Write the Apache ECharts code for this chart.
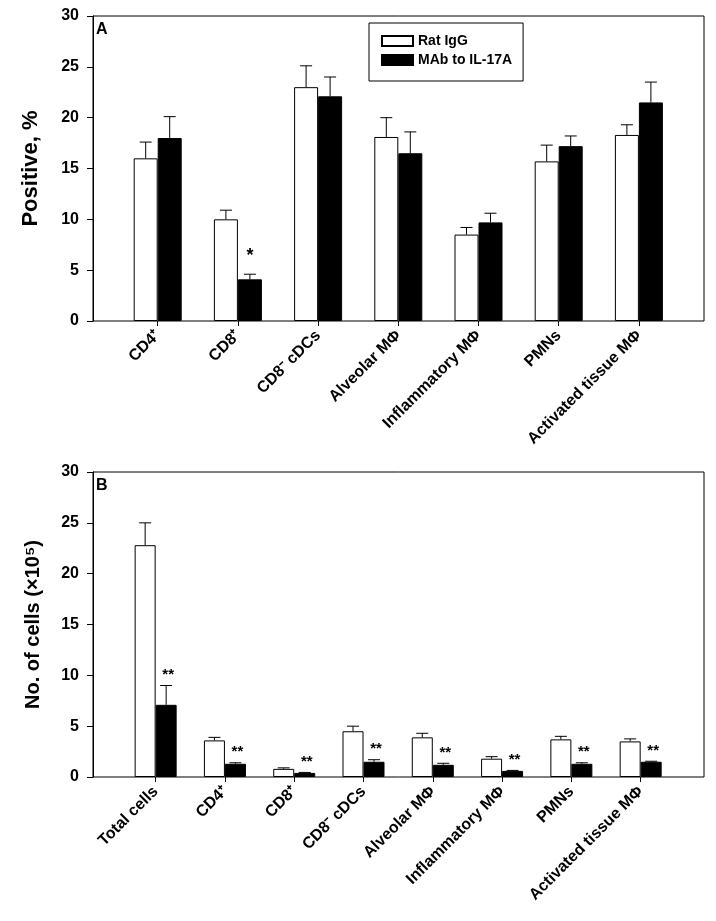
<!DOCTYPE html>
<html><head><meta charset="utf-8">
<script src="https://cdn.jsdelivr.net/npm/echarts@6/dist/echarts.min.js"></script>
<style>html,body{margin:0;padding:0;background:#fff}#c{width:716px;height:921px}</style>
</head><body><div id="c"></div>
<script>
// ---- Data ----
const categoriesA = ['CD4⁺', 'CD8⁺', 'CD8⁻ cDCs', 'Alveolar MΦ', 'Inflammatory MΦ', 'PMNs', 'Activated tissue MΦ'];
const ratA = [16.0, 10.0, 23.0, 18.1, 8.5, 15.7, 18.3];
const ratASem = [1.6, 0.9, 2.1, 1.9, 0.7, 1.6, 1.0];
const mabA = [18.0, 4.1, 22.1, 16.5, 9.7, 17.2, 21.5];
const mabASem = [2.1, 0.5, 1.9, 2.1, 0.9, 1.0, 2.0];
const sigA = ['', '*', '', '', '', '', ''];

const categoriesB = ['Total cells', 'CD4⁺', 'CD8⁺', 'CD8⁻ cDCs', 'Alveolar MΦ', 'Inflammatory MΦ', 'PMNs', 'Activated tissue MΦ'];
const ratB = [22.8, 3.6, 0.8, 4.5, 3.9, 1.8, 3.7, 3.5];
const ratBSem = [2.2, 0.3, 0.1, 0.5, 0.4, 0.2, 0.3, 0.25];
const mabB = [7.1, 1.3, 0.4, 1.5, 1.2, 0.6, 1.3, 1.5];
const mabBSem = [1.9, 0.1, 0.05, 0.2, 0.15, 0.05, 0.1, 0.05];
const sigB = ['**', '**', '**', '**', '**', '**', '**', '**'];

const yTicks = [0, 5, 10, 15, 20, 25, 30];
const seriesNames = ['Rat IgG', 'MAb to IL-17A'];

// ---- Styling helpers ----
const FONT = "'Liberation Sans', Arial, sans-serif";

function errSeries(name, xi, yi, vals, sems, side, halfBar, stars, starOpts) {
  return {
    type: 'custom', name: name, xAxisIndex: xi, yAxisIndex: yi, z: 5,
    data: vals.map((v, i) => [i, v, sems[i]]),
    renderItem: function (params, api) {
      const i = api.value(0), v = api.value(1), s = api.value(2);
      const base = api.coord([i, v]);
      const top = api.coord([i, v + s]);
      const x = base[0] + side * halfBar;
      const ch = [
        {type: 'line', shape: {x1: x, y1: base[1], x2: x, y2: top[1]}, style: {stroke: '#000', lineWidth: 1}},
        {type: 'line', shape: {x1: x - 6, y1: top[1], x2: x + 6, y2: top[1]}, style: {stroke: '#000', lineWidth: 1}}
      ];
      const st = stars ? stars[params.dataIndex] : '';
      if (st) {
        ch.push({type: 'text', x: x + starOpts.dx, y: top[1] - starOpts.gap,
          style: {text: st, fill: '#000', font: 'bold ' + starOpts.size + 'px ' + FONT, textAlign: 'center', textVerticalAlign: 'bottom'}});
      }
      return {type: 'group', children: ch};
    }
  };
}

const yAxisVisible = (name, gap, nsize) => ({
  type: 'value', min: yTicks[0], max: yTicks[yTicks.length - 1], interval: 5,
  axisLine: {show: true, lineStyle: {color: '#000', width: 1}},
  axisTick: {show: true, inside: false, length: 6, lineStyle: {color: '#000'}},
  axisLabel: {color: '#000', fontWeight: 'bold', fontSize: 16, fontFamily: FONT, margin: 14},
  splitLine: {show: false},
  name: name, nameLocation: 'middle', nameGap: gap, nameRotate: 90,
  nameTextStyle: {color: '#000', fontWeight: 'bold', fontSize: nsize, fontFamily: FONT}
});
const yAxisHidden = () => ({type: 'value', min: 0, max: 30, interval: 5, show: false});
const xCat = (data) => ({
  type: 'category', data: data,
  axisLine: {show: false},
  axisTick: {show: true, alignWithLabel: true, length: 5, lineStyle: {color: '#000'}},
  axisLabel: {color: '#000', fontWeight: 'bold', fontSize: 16, fontFamily: FONT, rotate: 45, margin: 12, interval: 0}
});

const chart = echarts.init(document.getElementById('c'), null, {renderer: 'canvas'});
chart.setOption({
  backgroundColor: '#fff',
  animation: false,
  grid: [
    {left: 93, top: 16, width: 611, height: 305, show: true, borderColor: '#000', borderWidth: 1, backgroundColor: 'transparent'},
    {left: 117.6, top: 16, width: 561.4, height: 305},
    {left: 93, top: 472, width: 611, height: 305, show: true, borderColor: '#000', borderWidth: 1, backgroundColor: 'transparent'},
    {left: 121, top: 472, width: 554.3, height: 305}
  ],
  xAxis: [
    {gridIndex: 0, type: 'value', min: 0, max: 1, show: false},
    Object.assign({gridIndex: 1}, xCat(categoriesA)),
    {gridIndex: 2, type: 'value', min: 0, max: 1, show: false},
    Object.assign({gridIndex: 3}, xCat(categoriesB))
  ],
  yAxis: [
    Object.assign({gridIndex: 0}, yAxisVisible('Positive, %', 51, 22)),
    Object.assign({gridIndex: 1}, yAxisHidden()),
    Object.assign({gridIndex: 2}, yAxisVisible('No. of cells (×10⁵)', 50, 20)),
    Object.assign({gridIndex: 3}, yAxisHidden())
  ],
  legend: {
    data: [{name: seriesNames[0], icon: 'rect'}, {name: seriesNames[1], icon: 'rect'}],
    orient: 'vertical', left: 369, top: 23,
    borderColor: '#000', borderWidth: 1, padding: [11, 11, 14, 12],
    itemWidth: 31, itemHeight: 10, itemGap: 5,
    textStyle: {color: '#000', fontWeight: 'bold', fontSize: 14, fontFamily: FONT}
  },
  graphic: [
    {type: 'text', left: 96, top: 22, style: {text: 'A', font: 'bold 16px ' + FONT, fill: '#000'}},
    {type: 'text', left: 96, top: 478, style: {text: 'B', font: 'bold 16px ' + FONT, fill: '#000'}}
  ],
  series: [
    {type: 'bar', name: seriesNames[0], xAxisIndex: 1, yAxisIndex: 1, data: ratA, barWidth: 24, barGap: '0%',
      itemStyle: {color: '#fff', borderColor: '#000', borderWidth: 1}},
    {type: 'bar', name: seriesNames[1], xAxisIndex: 1, yAxisIndex: 1, data: mabA, barWidth: 24, barGap: '0%',
      itemStyle: {color: '#000', borderColor: '#000', borderWidth: 1}},
    errSeries('errRatA', 1, 1, ratA, ratASem, -1, 12, null),
    errSeries('errMabA', 1, 1, mabA, mabASem, 1, 12, sigA, {gap: 9, size: 18, dx: 0}),
    {type: 'bar', name: seriesNames[0], xAxisIndex: 3, yAxisIndex: 3, data: ratB, barWidth: 21, barGap: '0%',
      itemStyle: {color: '#fff', borderColor: '#000', borderWidth: 1}},
    {type: 'bar', name: seriesNames[1], xAxisIndex: 3, yAxisIndex: 3, data: mabB, barWidth: 21, barGap: '0%',
      itemStyle: {color: '#000', borderColor: '#000', borderWidth: 1}},
    errSeries('errRatB', 3, 3, ratB, ratBSem, -1, 10.5, null),
    errSeries('errMabB', 3, 3, mabB, mabBSem, 1, 10.5, sigB, {gap: 3, size: 15, dx: 2})
  ]
});
</script></body></html>
